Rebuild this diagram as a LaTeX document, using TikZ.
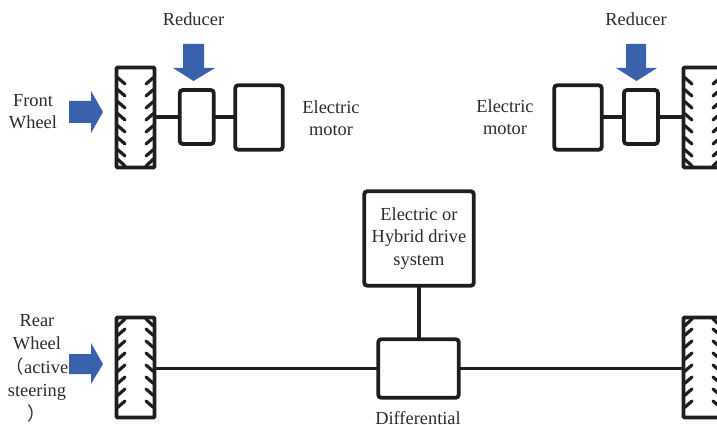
\documentclass[tikz,border=0pt]{standalone}
\usepackage{fontspec}
\setmainfont{Liberation Serif}
\newfontfamily\cjkf{Noto Sans CJK SC}
\definecolor{inkc}{HTML}{1E1E1E}
\definecolor{textc}{HTML}{2B2B2B}
\definecolor{arrowc}{HTML}{3A62AC}
\tikzset{
  part/.style={draw=inkc,line width=3.8pt,rounded corners=3pt,fill=white,inner sep=0pt,outer sep=0pt,minimum width=#1},
  wheelbox/.style={draw=inkc,line width=3.8pt,rounded corners=1pt,fill=white,inner sep=0pt,outer sep=0pt,minimum width=38pt,minimum height=#1},
  shaft/.style={draw=inkc,line width=3.8pt},
  tooth/.style={draw=inkc,line width=3.2pt,line cap=round},
  lab/.style={text=textc,align=center,inner sep=0pt,font=\fontsize{18.4}{22.5}\selectfont},
  blue/.style={fill=arrowc,draw=none}
}
% #1 node name, #2 = 1 teeth slanted down toward centre (front), -1 up (rear)
\newcommand{\wheelteeth}[2]{%
  \begin{scope}[shift={(#1.center)},yscale=#2]
    \foreach \yy in {-40,-28,-16,-4,8,20,32}{
      \draw[tooth] (-18,\yy) -- (-10.5,\yy+6.5);
      \draw[tooth] (18,\yy) -- (10.5,\yy+6.5);
    }
    \draw[tooth,line cap=butt] (-18,41.5) -- (-10,49);
    \draw[tooth,line cap=butt] (18,41.5) -- (10,49);
  \end{scope}}
\begin{document}
\begin{tikzpicture}[x=1pt,y=-1pt]
\useasboundingbox (0,0) rectangle (717,425);
\clip (0,0) rectangle (717,425);
% parts
\node[wheelbox=100pt] (wfl) at (135.5,117.5) {};
\node[wheelbox=100pt] (wfr) at (702.5,117.5) {};
\node[wheelbox=100pt] (wrl) at (135.5,367.5) {};
\node[wheelbox=100pt] (wrr) at (702.5,367.5) {};
\node[part=34pt,minimum height=54pt] (rl) at (196.75,117) {};
\node[part=47.5pt,minimum height=64.5pt] (ml) at (259,117.5) {};
\node[part=47.5pt,minimum height=64.5pt] (mr) at (578,117.5) {};
\node[part=34pt,minimum height=54pt] (rr) at (641,117) {};
\node[part=109.5pt,minimum height=94.5pt,lab] (drive) at (419,238.5) {Electric or\\Hybrid drive\\system};
\node[part=80.5pt,minimum height=58.5pt] (diff) at (418.5,368.5) {};
% shafts
\draw[shaft] (wfl.east |- rl.west) -- (rl.west);
\draw[shaft] (rl.east) -- (rl.east -| ml.west);
\draw[shaft] (mr.east |- rr.west) -- (rr.west);
\draw[shaft] (rr.east) -- (rr.east -| wfr.west);
\draw[shaft] (wrl.east |- diff.west) -- (diff.west);
\draw[shaft] (diff.east) -- (diff.east -| wrr.west);
\draw[shaft] (drive.south) -- (drive.south |- diff.north);
% tyre treads
\wheelteeth{wfl}{1}
\wheelteeth{wfr}{1}
\wheelteeth{wrl}{-1}
\wheelteeth{wrr}{-1}
% arrows
\fill[blue] (69,101) -- (91,101) -- (91,91) -- (103,112) -- (91,133) -- (91,123) -- (69,123) -- cycle;
\fill[blue] (69,354) -- (91,354) -- (91,343) -- (103,364) -- (91,384) -- (91,374) -- (69,374) -- cycle;
\fill[blue] (183,44) -- (204,44) -- (204,68) -- (215,68) -- (193.5,81) -- (173,68) -- (183,68) -- cycle;
\fill[blue] (626,44) -- (646,44) -- (646,68) -- (657,68) -- (636.5,81) -- (616,68) -- (626,68) -- cycle;
% labels
\node[lab] (t1) at (193.5,19) {Reducer};
\node[lab] (t2) at (636,19) {Reducer};
\node[lab] (t3) at (33,111.5) {Front\\Wheel};
\node[lab] (t4) at (331,118) {Electric\\motor};
\node[lab] (t5) at (505,117) {Electric\\motor};
\node[lab] (t6) at (418,418) {Differential};
\node[lab] (t7) at (37,368.5) {Rear\\Wheel\\[2pt]{\cjkf （}active\\[0.5pt]steering\\[1pt]{\cjkf ）}};
\end{tikzpicture}
\end{document}
